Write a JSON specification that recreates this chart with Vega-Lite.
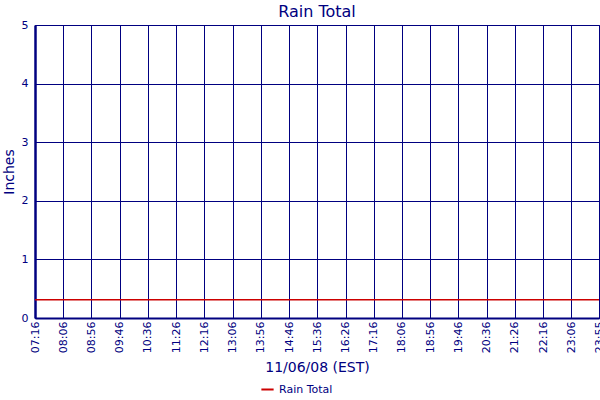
{
  "$schema": "https://vega.github.io/schema/vega-lite/v6.json",
  "width": 564,
  "height": 293,
  "autosize": "none",
  "padding": {"left": 35, "top": 25, "right": 1, "bottom": 82},
  "background": "white",
  "config": {
    "font": "DejaVu Sans",
    "view": {"stroke": "#000080", "strokeWidth": 1},
    "axis": {
      "domainColor": "#000080",
      "gridColor": "#000080",
      "gridOpacity": 1,
      "gridWidth": 1,
      "labelColor": "#000080",
      "titleColor": "#000080",
      "labelFont": "DejaVu Sans",
      "titleFont": "DejaVu Sans",
      "titleFontWeight": "normal",
      "titleFontSize": 14,
      "labelFontSize": 11
    }
  },
  "title": {
    "text": "Rain Total",
    "color": "#000080",
    "font": "DejaVu Sans",
    "fontSize": 16,
    "fontWeight": "normal",
    "anchor": "middle",
    "offset": -1
  },
  "data": {
    "values": [
      {"time": "2008-11-06T07:16:00", "inches": 0.31, "series": "Rain Total"},
      {"time": "2008-11-06T08:06:00", "inches": 0.31, "series": "Rain Total"},
      {"time": "2008-11-06T08:56:00", "inches": 0.31, "series": "Rain Total"},
      {"time": "2008-11-06T09:46:00", "inches": 0.31, "series": "Rain Total"},
      {"time": "2008-11-06T10:36:00", "inches": 0.31, "series": "Rain Total"},
      {"time": "2008-11-06T11:26:00", "inches": 0.31, "series": "Rain Total"},
      {"time": "2008-11-06T12:16:00", "inches": 0.31, "series": "Rain Total"},
      {"time": "2008-11-06T13:06:00", "inches": 0.31, "series": "Rain Total"},
      {"time": "2008-11-06T13:56:00", "inches": 0.31, "series": "Rain Total"},
      {"time": "2008-11-06T14:46:00", "inches": 0.31, "series": "Rain Total"},
      {"time": "2008-11-06T15:36:00", "inches": 0.31, "series": "Rain Total"},
      {"time": "2008-11-06T16:26:00", "inches": 0.31, "series": "Rain Total"},
      {"time": "2008-11-06T17:16:00", "inches": 0.31, "series": "Rain Total"},
      {"time": "2008-11-06T18:06:00", "inches": 0.31, "series": "Rain Total"},
      {"time": "2008-11-06T18:56:00", "inches": 0.31, "series": "Rain Total"},
      {"time": "2008-11-06T19:46:00", "inches": 0.31, "series": "Rain Total"},
      {"time": "2008-11-06T20:36:00", "inches": 0.31, "series": "Rain Total"},
      {"time": "2008-11-06T21:26:00", "inches": 0.31, "series": "Rain Total"},
      {"time": "2008-11-06T22:16:00", "inches": 0.31, "series": "Rain Total"},
      {"time": "2008-11-06T23:06:00", "inches": 0.31, "series": "Rain Total"},
      {"time": "2008-11-06T23:55:00", "inches": 0.31, "series": "Rain Total"}
    ]
  },
  "mark": {"type": "line", "strokeWidth": 1.5},
  "encoding": {
    "x": {
      "field": "time",
      "type": "temporal",
      "title": "11/06/08 (EST)",
      "scale": {
        "domain": [
          {"year": 2008, "month": 11, "date": 6, "hours": 7, "minutes": 16},
          {"year": 2008, "month": 11, "date": 6, "hours": 23, "minutes": 55}
        ],
        "nice": false
      },
      "axis": {
        "values": [
          {"year": 2008, "month": 11, "date": 6, "hours": 7, "minutes": 16},
          {"year": 2008, "month": 11, "date": 6, "hours": 8, "minutes": 6},
          {"year": 2008, "month": 11, "date": 6, "hours": 8, "minutes": 56},
          {"year": 2008, "month": 11, "date": 6, "hours": 9, "minutes": 46},
          {"year": 2008, "month": 11, "date": 6, "hours": 10, "minutes": 36},
          {"year": 2008, "month": 11, "date": 6, "hours": 11, "minutes": 26},
          {"year": 2008, "month": 11, "date": 6, "hours": 12, "minutes": 16},
          {"year": 2008, "month": 11, "date": 6, "hours": 13, "minutes": 6},
          {"year": 2008, "month": 11, "date": 6, "hours": 13, "minutes": 56},
          {"year": 2008, "month": 11, "date": 6, "hours": 14, "minutes": 46},
          {"year": 2008, "month": 11, "date": 6, "hours": 15, "minutes": 36},
          {"year": 2008, "month": 11, "date": 6, "hours": 16, "minutes": 26},
          {"year": 2008, "month": 11, "date": 6, "hours": 17, "minutes": 16},
          {"year": 2008, "month": 11, "date": 6, "hours": 18, "minutes": 6},
          {"year": 2008, "month": 11, "date": 6, "hours": 18, "minutes": 56},
          {"year": 2008, "month": 11, "date": 6, "hours": 19, "minutes": 46},
          {"year": 2008, "month": 11, "date": 6, "hours": 20, "minutes": 36},
          {"year": 2008, "month": 11, "date": 6, "hours": 21, "minutes": 26},
          {"year": 2008, "month": 11, "date": 6, "hours": 22, "minutes": 16},
          {"year": 2008, "month": 11, "date": 6, "hours": 23, "minutes": 6},
          {"year": 2008, "month": 11, "date": 6, "hours": 23, "minutes": 55}
        ],
        "format": "%H:%M",
        "labelAngle": 270,
        "labelFlush": false,
        "labelOverlap": false,
        "labelPadding": 3,
        "ticks": false,
        "domainWidth": 2,
        "titlePadding": 8
      }
    },
    "y": {
      "field": "inches",
      "type": "quantitative",
      "title": "Inches",
      "scale": {"domain": [0, 5], "nice": false},
      "axis": {
        "values": [0, 1, 2, 3, 4, 5],
        "ticks": false,
        "labelPadding": 7,
        "domainWidth": 2.5,
        "titlePadding": 5
      }
    },
    "color": {
      "field": "series",
      "type": "nominal",
      "scale": {"range": ["#cc0000"]},
      "legend": {
        "title": null,
        "orient": "none",
        "legendX": 225,
        "legendY": 357,
        "symbolType": "stroke",
        "symbolSize": 150,
        "symbolStrokeWidth": 2,
        "labelColor": "#000080",
        "labelFontSize": 11,
        "labelFont": "DejaVu Sans"
      }
    }
  }
}
